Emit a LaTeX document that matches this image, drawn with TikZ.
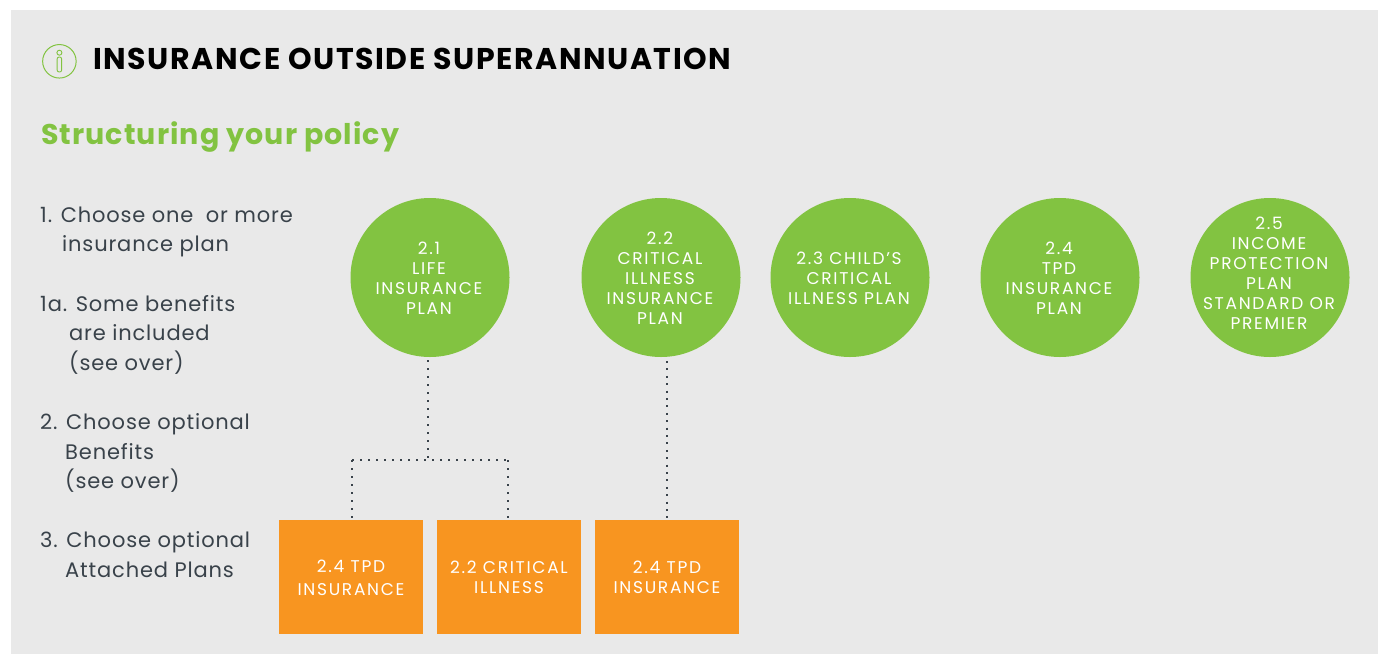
\documentclass[tikz,border=0pt]{standalone}
\usepackage{fontspec}
\setmainfont{Poppins}
\definecolor{panelgrey}{HTML}{E9E9E9}
\definecolor{leaf}{HTML}{82C341}
\definecolor{amber}{HTML}{F89520}
\definecolor{slate}{HTML}{39424A}
\newcommand{\tracked}[1]{\addfontfeatures{LetterSpace=#1}}
% #1 = horizontal nudge, #2 = lift, #3 = lines: placing text without changing the shape's size
\newcommand{\placed}[3]{\raisebox{#2}[0pt][0pt]{\makebox[0pt]{\hspace*{#1}\parbox{150pt}{\centering #3}}}}
\tikzset{
  x=1pt,y=-1pt,
  plan/.style={circle,fill=leaf,draw=none,minimum size=159pt,inner sep=0pt,text=white,align=center,font=\fontsize{17}{20}\selectfont\tracked{10}},
  attached/.style={rectangle,fill=amber,draw=none,minimum width=144pt,minimum height=114pt,inner sep=0pt,text=white,align=center,font=\fontsize{17}{20}\selectfont\tracked{10}},
  linktext/.style={dash pattern=on 2pt off 6pt,line width=2pt,draw=slate},
  linkthin/.style={dash pattern=on 2pt off 5.4pt,line width=1.7pt,draw=slate},
  steptext/.style={anchor=north west,inner sep=0pt,text=slate,align=left,font=\fontsize{21}{29.4}\selectfont\tracked{4}},
}
\begin{document}
\begin{tikzpicture}
\useasboundingbox (0,0) rectangle (1378,654);
\fill[white] (0,0) rectangle (1378,654);
\fill[panelgrey] (11,10) rectangle (1378,654);
% icon
\node[circle,draw=leaf,line width=1pt,minimum size=33.5pt,inner sep=0pt] (icon) at (59.4,61.3) {};
\node[circle,draw=leaf,line width=.9pt,minimum size=5pt,inner sep=0pt] (idot) at (59.4,52.7) {};
\node[rectangle,rounded corners=2pt,draw=leaf,line width=.9pt,minimum width=4.5pt,minimum height=15pt,inner sep=0pt] (istem) at (59.4,64.5) {};
% headings
\node[anchor=base west,inner sep=0pt,font=\fontsize{30}{32}\selectfont\bfseries\tracked{5.3},text=black] (title) at (93,69) {INSURANCE OUTSIDE SUPERANNUATION};
\node[anchor=base west,inner sep=0pt,font=\fontsize{28.5}{32}\selectfont\bfseries\tracked{3.7},text=leaf] (sub) at (41,144) {Structuring your policy};
% steps
\node[steptext] (s1) at (40,206.5) {1. Choose one\; or more\\\hspace*{22pt}insurance plan};
\node[steptext] (s1a) at (40,295) {1a. Some benefits\\\hspace*{29pt}are included\\\hspace*{29pt}(see over)};
\node[steptext] (s2) at (40,413.5) {2. Choose optional\\\hspace*{25pt}Benefits\\\hspace*{25pt}(see over)};
\node[steptext] (s3) at (40,531.5) {3. Choose optional\\\hspace*{25pt}Attached Plans};
% plans
\node[plan] (p1) at (430,277.5) {\placed{-2pt}{-5pt}{2.1\\LIFE\\INSURANCE\\PLAN}};
\node[plan] (p2) at (661,277.5) {\placed{-2pt}{-5pt}{2.2\\CRITICAL\\ILLNESS\\INSURANCE\\PLAN}};
\node[plan] (p3) at (850,277.5) {\placed{-2pt}{-5pt}{2.3 CHILD’S\\CRITICAL\\ILLNESS PLAN}};
\node[plan] (p4) at (1060,277.5) {\placed{-2pt}{-5pt}{2.4\\TPD\\INSURANCE\\PLAN}};
\node[plan] (p5) at (1270,277.5) {\placed{-2pt}{0pt}{2.5\\INCOME\\PROTECTION\\PLAN\\STANDARD OR\\PREMIER}};
% attached plans
\node[attached] (b1) at (351,577) {\placed{0pt}{-5pt}{2.4 TPD\\[3pt]INSURANCE}};
\node[attached] (b2) at (509,577) {\placed{0pt}{-5pt}{2.2 CRITICAL\\ILLNESS}};
\node[attached] (b3) at (667,577) {\placed{0pt}{-5pt}{2.4 TPD\\INSURANCE}};
% connectors
\coordinate (j) at (428,460);
\coordinate (jl) at (352,460);
\coordinate (jr) at (508,460);
\draw[linktext] (p1.south -| j) ++(0,3) -- (j);
\draw[linktext] (jl) -- (jr);
\draw[linktext] (jl) -- (jl |- b1.north);
\draw[linktext] (jr) -- (jr |- b2.north);
\coordinate (k) at (667.3,361);
\draw[linkthin] (k) -- (k |- b3.north);
\end{tikzpicture}
\end{document}
